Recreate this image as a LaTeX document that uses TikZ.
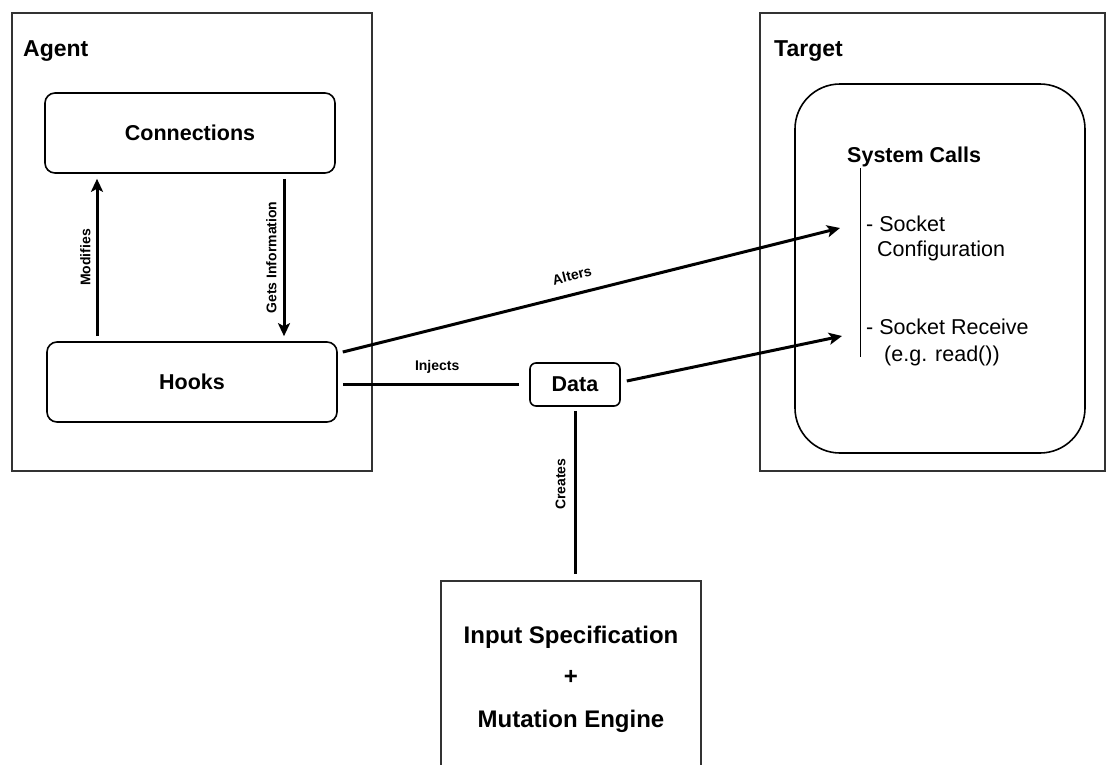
\documentclass[tikz,border=0pt]{standalone}
\usepackage{fontspec}
\setmainfont{Liberation Sans}
\usetikzlibrary{arrows.meta}

\begin{document}
\begin{tikzpicture}[x=1pt, y=-1pt,
    frame/.style={draw=black!80, line width=1.8pt, rectangle},
    block/.style={draw, line width=1.6pt, rounded corners=10pt, font=\fontsize{21.5}{26}\selectfont\bfseries},
    link/.style={line width=3pt},
    arr/.style={link, -{Stealth[length=13pt, width=12pt, inset=3pt]}},
    lbl/.style={font=\fontsize{14}{16}\selectfont\bfseries, inner sep=0pt},
    txt/.style={font=\fontsize{21.5}{26}\selectfont, inner sep=0pt, anchor=base west},
    head/.style={txt, font=\fontsize{23}{26}\selectfont\bfseries}]

      \useasboundingbox (0,0) rectangle (1106,764);
      \clip (0,0) rectangle (1106,764);

      % Agent
      \node[frame, minimum width=360pt, minimum height=458pt] (agent) at (192,242) {};
      \node[head] (agentlbl) at (23,56) {Agent};
      \node[block, minimum width=290pt, minimum height=80pt] (conn) at (190,133) {Connections};
      \node[block, minimum width=290pt, minimum height=80pt] (hooks) at (192,382) {Hooks};

      % Agent arrows
      \draw[arr] ([xshift=-95pt, yshift=5pt]hooks.north) -- node[lbl, midway, xshift=-5pt, rotate=90, anchor=south] {Modifies} ([xshift=-93pt, yshift=-5pt]conn.south);
      \draw[arr] ([xshift=94pt, yshift=-5pt]conn.south) -- node[lbl, midway, xshift=-6pt, rotate=90, anchor=south] {Gets Information} ([xshift=92pt, yshift=5pt]hooks.north);

      % Target
      \node[frame, minimum width=345pt, minimum height=458pt] (target) at (932.5,242) {};
      \node[head] (targetlbl) at (774,56) {Target};
      \node[draw, line width=1.6pt, rounded corners=45pt, minimum width=290pt, minimum height=369pt] (sys) at (940,268.5) {};
      \node[txt, font=\fontsize{21.5}{26}\selectfont\bfseries] (syslbl) at (847,162) {System Calls};
      \draw[line width=0.8pt] (860,168) -- (860,357);

      % System calls
      \node[txt] (cfg1) at (866,231) {- Socket};
      \node[txt] (cfg2) at (877,256) {Configuration};
      \node[txt] (recv1) at (866,334) {- Socket Receive};
      \node[txt] (recv2) at (884,361) {(e.g. read())};
      \coordinate (cfgin) at (840,228);
      \coordinate (recvin) at (842,336);

      % Data
      \node[block, rounded corners=6pt, minimum width=90pt, minimum height=43pt] (data) at (575,384.5) {Data};

      % Arrows
      \draw[arr] ([xshift=5pt, yshift=30pt]hooks.east) -- node[lbl, pos=0.47, above=12pt, sloped] {Alters} (cfgin);
      \draw[link] ([xshift=5pt, yshift=-2pt]hooks.east) -- node[lbl, pos=0.535, above=9pt] {Injects} ([xshift=-10pt, yshift=0.5pt]data.west);
      \draw[arr] ([xshift=6pt, yshift=3.5pt]data.east) -- (recvin);

      % Input specification
      \node[frame, minimum width=260pt, minimum height=220pt] (engine) at (571,691) {};
      \draw[link] ([yshift=-4pt]data.south) -- node[lbl, pos=0.45, xshift=-8pt, rotate=90, anchor=south] {Creates} ([xshift=4pt, yshift=6pt]engine.north);
      \node[head, anchor=base, font=\fontsize{24}{26}\selectfont\bfseries] (spec) at (571,643) {Input Specification};
      \node[head, anchor=base, font=\fontsize{24}{26}\selectfont\bfseries] (plus) at (571,684) {+};
      \node[head, anchor=base, font=\fontsize{24}{26}\selectfont\bfseries] (mut) at (571,727) {Mutation Engine};

    \end{tikzpicture}
\end{document}
